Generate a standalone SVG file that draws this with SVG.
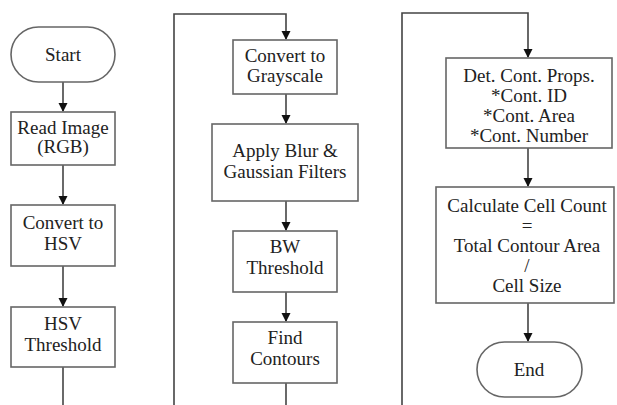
<svg xmlns="http://www.w3.org/2000/svg" width="617" height="405" viewBox="0 0 617 405">
<style>
.n{fill:#fff;stroke:#666;stroke-width:1.6}
.c{fill:none;stroke:#444;stroke-width:1.6}
</style>
<defs>
<marker id="ah" markerWidth="9" markerHeight="11" refX="8" refY="4.5" orient="auto" markerUnits="userSpaceOnUse" viewBox="0 0 9 9">
<path d="M0,0 L9,4.5 L0,9 Z" fill="#111"/>
</marker>
</defs>
<rect width="617" height="405" fill="#fff"/>
<g id="connectors">
<line class="c" x1="63" y1="82" x2="63" y2="111" marker-end="url(#ah)"/>
<line class="c" x1="63" y1="165" x2="63" y2="204" marker-end="url(#ah)"/>
<line class="c" x1="63" y1="266" x2="63" y2="306" marker-end="url(#ah)"/>
<line class="c" x1="63" y1="367" x2="63" y2="405"/>
<path class="c" d="M174,405 V14 H286 V39" marker-end="url(#ah)"/>
<line class="c" x1="286" y1="94" x2="286" y2="123" marker-end="url(#ah)"/>
<line class="c" x1="286" y1="201" x2="286" y2="230" marker-end="url(#ah)"/>
<line class="c" x1="286" y1="292" x2="286" y2="321" marker-end="url(#ah)"/>
<line class="c" x1="286" y1="383" x2="286" y2="405"/>
<path class="c" d="M402,405 V13 H528 V57" marker-end="url(#ah)"/>
<line class="c" x1="528" y1="148" x2="528" y2="186" marker-end="url(#ah)"/>
<line class="c" x1="528" y1="303" x2="528" y2="341" marker-end="url(#ah)"/>
</g>
<g font-family="Liberation Serif, Times New Roman, serif" font-size="19" fill="#222" text-anchor="middle">
<g id="start">
<rect class="n" x="11" y="27" width="104" height="55" rx="27.5"/>
<text x="63" y="61">Start</text>
</g>
<g id="read">
<rect class="n" x="11" y="112" width="104" height="53"/>
<text x="63" y="134">Read Image</text>
<text x="63" y="153">(RGB)</text>
</g>
<g id="hsv">
<rect class="n" x="11" y="205" width="104" height="61"/>
<text x="63" y="229">Convert to</text>
<text x="63" y="250">HSV</text>
</g>
<g id="hsvthr">
<rect class="n" x="11" y="307" width="104" height="60"/>
<text x="63" y="330">HSV</text>
<text x="63" y="351">Threshold</text>
</g>
<g id="gray">
<rect class="n" x="233" y="40" width="104" height="54"/>
<text x="285" y="62">Convert to</text>
<text x="285" y="82">Grayscale</text>
</g>
<g id="blur">
<rect class="n" x="212" y="124" width="146" height="77"/>
<text x="285" y="157">Apply Blur &amp;</text>
<text x="285" y="178">Gaussian Filters</text>
</g>
<g id="bw">
<rect class="n" x="233" y="231" width="104" height="61"/>
<text x="285" y="253">BW</text>
<text x="285" y="274">Threshold</text>
</g>
<g id="contours">
<rect class="n" x="233" y="322" width="104" height="61"/>
<text x="285" y="344">Find</text>
<text x="285" y="365">Contours</text>
</g>
<g id="props">
<rect class="n" x="446" y="58" width="166" height="90"/>
<text x="529" y="82">Det. Cont. Props.</text>
<text x="529" y="102">*Cont. ID</text>
<text x="529" y="122">*Cont. Area</text>
<text x="529" y="142">*Cont. Number</text>
</g>
<g id="count">
<rect class="n" x="436" y="187" width="178" height="116"/>
<text x="527" y="212">Calculate Cell Count</text>
<text x="527" y="232">=</text>
<text x="527" y="252">Total Contour Area</text>
<text x="527" y="272">/</text>
<text x="527" y="292">Cell Size</text>
</g>
<g id="end">
<rect class="n" x="477" y="342" width="105" height="55" rx="27.5"/>
<text x="529" y="376">End</text>
</g>
</g>
</svg>
